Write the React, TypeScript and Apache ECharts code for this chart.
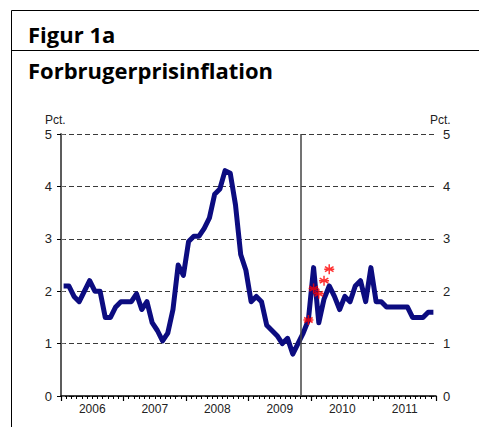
import React, { useEffect, useRef } from "react";
import * as echarts from "echarts";

const years = ["2006", "2007", "2008", "2009", "2010", "2011"];
// Monthly inflation, Jan 2006 - Dec 2011 (pct.)
const inflation2006 = [2.1, 2.1, 1.9, 1.8, 2.0, 2.2, 2.0, 2.0, 1.5, 1.5, 1.7, 1.8];
const inflation2007 = [1.8, 1.8, 1.95, 1.65, 1.8, 1.4, 1.25, 1.05, 1.2, 1.65, 2.5, 2.3];
const inflation2008 = [2.95, 3.05, 3.05, 3.2, 3.4, 3.85, 3.95, 4.3, 4.25, 3.65, 2.7, 2.4];
const inflation2009 = [1.8, 1.9, 1.8, 1.35, 1.25, 1.15, 1.0, 1.1, 0.8, 1.0, 1.2, 1.45];
const inflation2010 = [2.45, 1.4, 1.85, 2.1, 1.9, 1.65, 1.9, 1.8, 2.1, 2.2, 1.8, 2.45];
const inflation2011 = [1.8, 1.8, 1.7, 1.7, 1.7, 1.7, 1.7, 1.5, 1.5, 1.5, 1.6, 1.6];
const inflation = [
  ...inflation2006, ...inflation2007, ...inflation2008,
  ...inflation2009, ...inflation2010, ...inflation2011,
];
// Red star markers (Dec 2009 - Apr 2010)
const starStartMonth = 47;
const starValues = [1.45, 2.05, 1.95, 2.2, 2.42];
const lastObservedMonthEnd = 46; // vertical line after Oct 2009
const yTicks = [0, 1, 2, 3, 4, 5];

const starPath =
  "path://M5,0L5,10M0.7,2.5L9.3,7.5M0.7,7.5L9.3,2.5M0,5L10,5";

export default function App() {
  const ref = useRef<HTMLDivElement>(null);
  useEffect(() => {
    if (!ref.current) return;
    const chart = echarts.init(ref.current, null, { renderer: "svg" });
    const lineData = inflation.map((v, i) => [i + 0.5, v]);
    const starData = starValues.map((v, i) => [starStartMonth + i + 0.5, v]);
    const gridDash = { color: "#3a3a3a", width: 1.2, type: [5, 3] as any };
    const titleFont = "bold 22px 'Open Sans', sans-serif";
    chart.setOption({
      animation: false,
      textStyle: { fontFamily: "Liberation Sans, Arial, sans-serif" },
      grid: { left: 61, right: 43, top: 134, bottom: 31, containLabel: false },
      graphic: [
        { type: "line", shape: { x1: 11.5, y1: 10.5, x2: 479, y2: 10.5 }, style: { stroke: "#000", lineWidth: 1 } },
        { type: "line", shape: { x1: 11.5, y1: 10.5, x2: 11.5, y2: 427 }, style: { stroke: "#000", lineWidth: 1 } },
        { type: "line", shape: { x1: 11.5, y1: 50.5, x2: 479, y2: 50.5 }, style: { stroke: "#000", lineWidth: 1 } },
        {
          type: "text", left: 28, top: 23,
          style: { text: "Figur 1a", font: titleFont, fill: "#000" },
        },
        {
          type: "text", left: 28, top: 59,
          style: { text: "Forbrugerprisinflation", font: titleFont, fill: "#000" },
        },
        {
          type: "text", left: 45, top: 114,
          style: { text: "Pct.", font: "12px 'Liberation Sans', Arial, sans-serif", fill: "#222" },
        },
        {
          type: "text", left: 430, top: 114,
          style: { text: "Pct.", font: "12px 'Liberation Sans', Arial, sans-serif", fill: "#222" },
        },
      ],
      xAxis: [
        {
          type: "value", min: 0, max: 72, interval: 12, position: "bottom",
          axisLine: { show: true, onZero: false, lineStyle: { color: "#000", width: 1.5 } },
          axisTick: { show: true, length: 5, lineStyle: { color: "#000", width: 1.2 } },
          minorTick: { show: true, splitNumber: 12, length: 3, lineStyle: { color: "#000", width: 1 } },
          axisLabel: { show: false },
          splitLine: { show: false },
        },
        {
          type: "value", min: 0, max: 72, interval: 6, position: "bottom",
          axisLine: { show: false }, axisTick: { show: false }, splitLine: { show: false },
          axisLabel: {
            show: true, margin: 7, fontSize: 12, color: "#222",
            formatter: (v: number) => (v % 12 === 6 ? years[(v - 6) / 12] : ""),
          },
        },
      ],
      yAxis: [
        {
          type: "value", min: yTicks[0], max: yTicks[yTicks.length - 1], interval: 1, position: "left",
          axisLine: { show: true, lineStyle: { color: "#000", width: 1.5 } },
          axisTick: { show: true, length: 4, lineStyle: { color: "#000" } },
          axisLabel: { margin: 9, fontSize: 13, color: "#222" },
          splitLine: { show: true, lineStyle: gridDash },
        },
        {
          type: "value", min: yTicks[0], max: yTicks[yTicks.length - 1], interval: 1, position: "right",
          axisLine: { show: true, lineStyle: { color: "#666", width: 1.5 } },
          axisTick: { show: true, length: 4, lineStyle: { color: "#666" } },
          axisLabel: { margin: 7, fontSize: 13, color: "#222" },
          splitLine: { show: false },
        },
      ],
      series: [
        {
          type: "line", data: lineData, xAxisIndex: 0, yAxisIndex: 0,
          showSymbol: false, symbol: "none",
          lineStyle: { color: "#0c0c80", width: 5, join: "round" },
          z: 3,
          markLine: {
            silent: true, symbol: "none", label: { show: false },
            lineStyle: { color: "#444", width: 1.5, type: "solid" },
            data: [{ xAxis: lastObservedMonthEnd }],
          },
        },
        {
          type: "scatter", data: starData, xAxisIndex: 0, yAxisIndex: 0,
          symbol: starPath, symbolSize: 10,
          itemStyle: { color: "none", borderColor: "#ff0000", borderWidth: 1.5 },
          z: 5,
        },
      ],
    });
    return () => chart.dispose();
  }, []);
  return (
    <div
      ref={ref}
      style={{ position: "absolute", left: 0, top: 0, width: 479, height: 427, background: "#fff" }}
    />
  );
}
